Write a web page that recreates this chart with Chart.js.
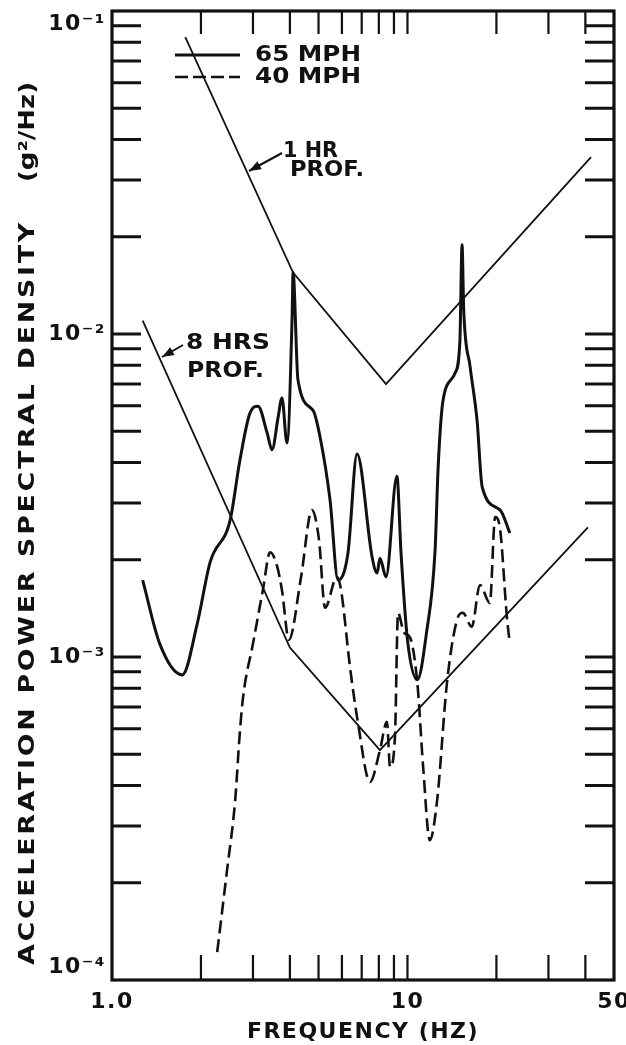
<!DOCTYPE html>
<html lang="en">
<head>
<meta charset="UTF-8">
<title>Acceleration Power Spectral Density</title>
<script src="https://cdn.jsdelivr.net/npm/chart.js"></script>
<style>
  html, body { margin: 0; padding: 0; background: #fff; }
</style>
</head>
<body>
<canvas id="psdChart" width="626" height="1045"></canvas>
<script>
// 65 MPH measured spectrum (solid)
const freq65 = [1.27, 1.45, 1.73, 1.94, 2.15, 2.51, 2.71, 2.93, 3.12, 3.35, 3.48, 3.65, 3.76, 3.91, 4.07,
                4.10, 4.26, 4.79, 5.06, 5.47, 5.82, 6.29, 6.75, 7.59, 7.89, 8.07, 8.46, 9.21, 9.51, 10.0,
                10.8, 11.6, 12.4, 12.7, 13.2, 14.5, 15.05, 15.3, 15.5, 16.3, 17.2, 17.9, 20.6, 22.2];
const psd65 = [1.73e-3, 1.10e-3, 8.8e-4, 1.26e-3, 1.97e-3, 2.65e-3, 4.07e-3, 5.69e-3, 5.98e-3, 4.94e-3,
               4.38e-3, 5.53e-3, 6.34e-3, 4.60e-3, 1.13e-2, 1.55e-2, 7.2e-3, 5.8e-3, 4.8e-3, 3.06e-3,
               1.73e-3, 2.10e-3, 4.25e-3, 2.04e-3, 1.82e-3, 2.02e-3, 1.77e-3, 3.63e-3, 2.10e-3, 1.13e-3,
               8.5e-4, 1.19e-3, 2.14e-3, 3.87e-3, 6.25e-3, 7.57e-3, 9.57e-3, 1.89e-2, 1.19e-2, 7.9e-3,
               5.4e-3, 3.36e-3, 2.85e-3, 2.42e-3];

// 40 MPH measured spectrum (dashed)
const freq40 = [2.27, 2.45, 2.61, 2.71, 2.78, 3.00, 3.24, 3.43, 3.62, 3.76, 3.97, 4.36, 4.75, 5.02, 5.26,
                5.77, 5.96, 6.39, 6.80, 7.47, 8.07, 8.52, 8.73, 9.07, 9.29, 9.73, 10.2, 10.8, 11.3, 11.9,
                12.6, 13.6, 14.7, 15.4, 16.5, 17.6, 19.0, 19.8, 20.6, 21.7, 22.2];
const psd40 = [1.22e-4, 2.18e-4, 3.58e-4, 5.9e-4, 7.57e-4, 1.10e-3, 1.61e-3, 2.11e-3, 1.91e-3, 1.61e-3,
               1.13e-3, 1.76e-3, 2.85e-3, 2.30e-3, 1.42e-3, 1.77e-3, 1.61e-3, 9.3e-4, 6.25e-4, 4.10e-4,
               5.15e-4, 6.30e-4, 4.56e-4, 5.65e-4, 1.37e-3, 1.19e-3, 1.15e-3, 8.3e-4, 4.56e-4, 2.71e-4,
               3.60e-4, 8.3e-4, 1.30e-3, 1.37e-3, 1.24e-3, 1.67e-3, 1.47e-3, 2.71e-3, 2.47e-3, 1.33e-3,
               1.10e-3];

// exposure profiles (thin straight lines)
const freq1hr = [1.77, 4.10, 8.46, 41.8];
const psd1hr = [0.083, 0.0155, 0.0070, 0.0353];
const freq8hr = [1.27, 4.00, 8.07, 40.8];
const psd8hr = [0.0110, 0.00107, 0.000515, 0.00252];

// axes
const xLabelValues = [1, 10, 50];
const xLabelText = ['1.0', '10', '50'];
const xMinorValues = [2, 3, 4, 5, 6, 7, 8, 9, 10, 20, 30, 40];
const yLabelValues = [1e-4, 1e-3, 1e-2, 1e-1];
const yLabelText = [['10⁻⁴', ''], '10⁻³', '10⁻²', ['', '10⁻¹']];
const yMinorValues = [];
[1e-4, 1e-3, 1e-2].forEach(d => { for (let k = 1; k <= 9; k++) if (d * k > 1e-4) yMinorValues.push(d * k); });

const ink = '#111';
const family = '"DejaVu Sans", "Liberation Sans", sans-serif';

function toPoints(xs, ys) {
    return xs.map((f, i) => ({ x: f, y: ys[i] }));
}

// the original lettering is wide: stretch glyphs a little, then space them out to the wanted width
function wideText(ctx, text, x, y, width) {
    ctx.letterSpacing = '0px';
    const w = ctx.measureText(text).width;
    const n = Array.from(text).length;
    const sx = Math.min(width / w, 1.22);
    const ls = n > 1 ? Math.max(0, (width / sx - w) / (n - 1)) : 0;
    ctx.save();
    ctx.translate(x, y);
    ctx.scale(sx, 1);
    ctx.letterSpacing = ls.toFixed(2) + 'px';
    ctx.fillText(text, 0, 0);
    ctx.restore();
}

function arrow(ctx, x0, y0, x1, y1) {
    ctx.beginPath();
    ctx.moveTo(x0, y0);
    ctx.lineTo(x1, y1);
    ctx.stroke();
    const a = Math.atan2(y1 - y0, x1 - x0), len = 12, wid = 4.5;
    const bx = x1 - len * Math.cos(a), by = y1 - len * Math.sin(a);
    ctx.beginPath();
    ctx.moveTo(x1, y1);
    ctx.lineTo(bx + wid * Math.sin(a), by - wid * Math.cos(a));
    ctx.lineTo(bx - wid * Math.sin(a), by + wid * Math.cos(a));
    ctx.closePath();
    ctx.fill();
}

const paperPlugin = {
    id: 'paper',
    beforeDraw(chart) {
        const ctx = chart.ctx;
        ctx.save();
        ctx.fillStyle = '#fff';
        ctx.fillRect(0, 0, chart.width, chart.height);
        ctx.restore();
        ctx.letterSpacing = '1.5px';
    },
    afterDatasetsDraw(chart) {
        const { ctx, chartArea: a, scales: { x, y } } = chart;
        ctx.save();
        ctx.strokeStyle = ink;
        ctx.fillStyle = ink;
        ctx.setLineDash([]);

        // frame
        ctx.lineWidth = 3.2;
        ctx.strokeRect(a.left, a.top, a.right - a.left, a.bottom - a.top);

        // inward ticks on all four sides
        ctx.lineWidth = 3;
        ctx.beginPath();
        yMinorValues.forEach(v => {
            const py = y.getPixelForValue(v);
            ctx.moveTo(a.left, py); ctx.lineTo(a.left + 29, py);
            ctx.moveTo(a.right, py); ctx.lineTo(a.right - 29, py);
        });
        ctx.stroke();
        ctx.lineWidth = 2.2;
        ctx.beginPath();
        xMinorValues.forEach(v => {
            const px = x.getPixelForValue(v);
            ctx.moveTo(px, a.bottom); ctx.lineTo(px, a.bottom - 25);
            ctx.moveTo(px, a.top); ctx.lineTo(px, a.top + 23);
        });
        ctx.stroke();

        // legend
        const L = a.left, T = a.top;
        ctx.lineWidth = 3;
        ctx.beginPath(); ctx.moveTo(L + 63, T + 44); ctx.lineTo(L + 128, T + 44); ctx.stroke();
        ctx.lineWidth = 2.6;
        ctx.setLineDash([13, 5]);
        ctx.beginPath(); ctx.moveTo(L + 63, T + 66); ctx.lineTo(L + 128, T + 66); ctx.stroke();
        ctx.setLineDash([]);

        ctx.font = 'bold 21px ' + family;
        ctx.textAlign = 'left';
        ctx.textBaseline = 'middle';
        wideText(ctx, '65 MPH', L + 143, T + 45, 106);
        wideText(ctx, '40 MPH', L + 143, T + 67, 106);

        // profile call-outs
        wideText(ctx, '1 HR', L + 171, T + 141, 55);
        wideText(ctx, 'PROF.', L + 178, T + 160, 74);
        wideText(ctx, '8 HRS', L + 74, T + 333, 84);
        wideText(ctx, 'PROF.', L + 75, T + 361, 77);
        ctx.lineWidth = 2;
        arrow(ctx, L + 170, T + 142, L + 137, T + 160);
        arrow(ctx, L + 71, T + 334, L + 50, T + 346);

        // y axis title, read bottom to top
        ctx.translate(28, 0);
        ctx.rotate(-Math.PI / 2);
        ctx.font = 'bold 22px ' + family;
        wideText(ctx, 'ACCELERATION POWER SPECTRAL DENSITY', -965, 0, 742);
        wideText(ctx, '(g²/Hz)', -182, 0, 100);
        ctx.restore();
    }
};

const ctx = document.getElementById('psdChart').getContext('2d');
const chart = new Chart(ctx, {
    type: 'line',
    data: {
        datasets: [
            {
                label: '65 MPH',
                data: toPoints(freq65, psd65),
                borderColor: ink,
                borderWidth: 3,
                pointRadius: 0,
                cubicInterpolationMode: 'monotone',
                tension: 0.3
            },
            {
                label: '40 MPH',
                data: toPoints(freq40, psd40),
                borderColor: ink,
                borderWidth: 2.6,
                borderDash: [13, 6],
                pointRadius: 0,
                cubicInterpolationMode: 'monotone',
                tension: 0.3
            },
            {
                label: '1 HR PROF.',
                data: toPoints(freq1hr, psd1hr),
                borderColor: ink,
                borderWidth: 1.8,
                pointRadius: 0,
                tension: 0
            },
            {
                label: '8 HRS PROF.',
                data: toPoints(freq8hr, psd8hr),
                borderColor: ink,
                borderWidth: 1.8,
                pointRadius: 0,
                tension: 0
            }
        ]
    },
    options: {
        responsive: false,
        devicePixelRatio: 1,
        animation: false,
        layout: { padding: { top: 11, right: 12, left: 0, bottom: 0 } },
        plugins: {
            legend: { display: false },
            tooltip: { enabled: false }
        },
        scales: {
            x: {
                type: 'logarithmic',
                min: 1,
                max: 50,
                grid: { display: false, drawTicks: false },
                border: { display: false },
                afterBuildTicks: axis => { axis.ticks = xLabelValues.map(v => ({ value: v })); },
                afterFit: axis => { axis.height = 65; axis.paddingLeft = 0; axis.paddingRight = 0; },
                ticks: {
                    autoSkip: false,
                    maxRotation: 0,
                    padding: 9,
                    color: ink,
                    font: { family: family, size: 22, weight: 'bold' },
                    callback: (value, index) => xLabelText[index]
                },
                title: {
                    display: true,
                    text: 'FREQUENCY (HZ)',
                    color: ink,
                    padding: { top: 0, bottom: 0 },
                    font: { family: family, size: 22, weight: 'bold' }
                }
            },
            y: {
                type: 'logarithmic',
                min: 1e-4,
                max: 1e-1,
                grid: { display: false, drawTicks: false },
                border: { display: false },
                afterBuildTicks: axis => { axis.ticks = yLabelValues.map(v => ({ value: v })); },
                afterFit: axis => { axis.width = 112; axis.paddingTop = 0; axis.paddingBottom = 0; },
                ticks: {
                    autoSkip: false,
                    padding: 6,
                    color: ink,
                    font: { family: family, size: 22, weight: 'bold' },
                    callback: (value, index) => yLabelText[index]
                }
            }
        }
    },
    plugins: [paperPlugin]
});
</script>
</body>
</html>
